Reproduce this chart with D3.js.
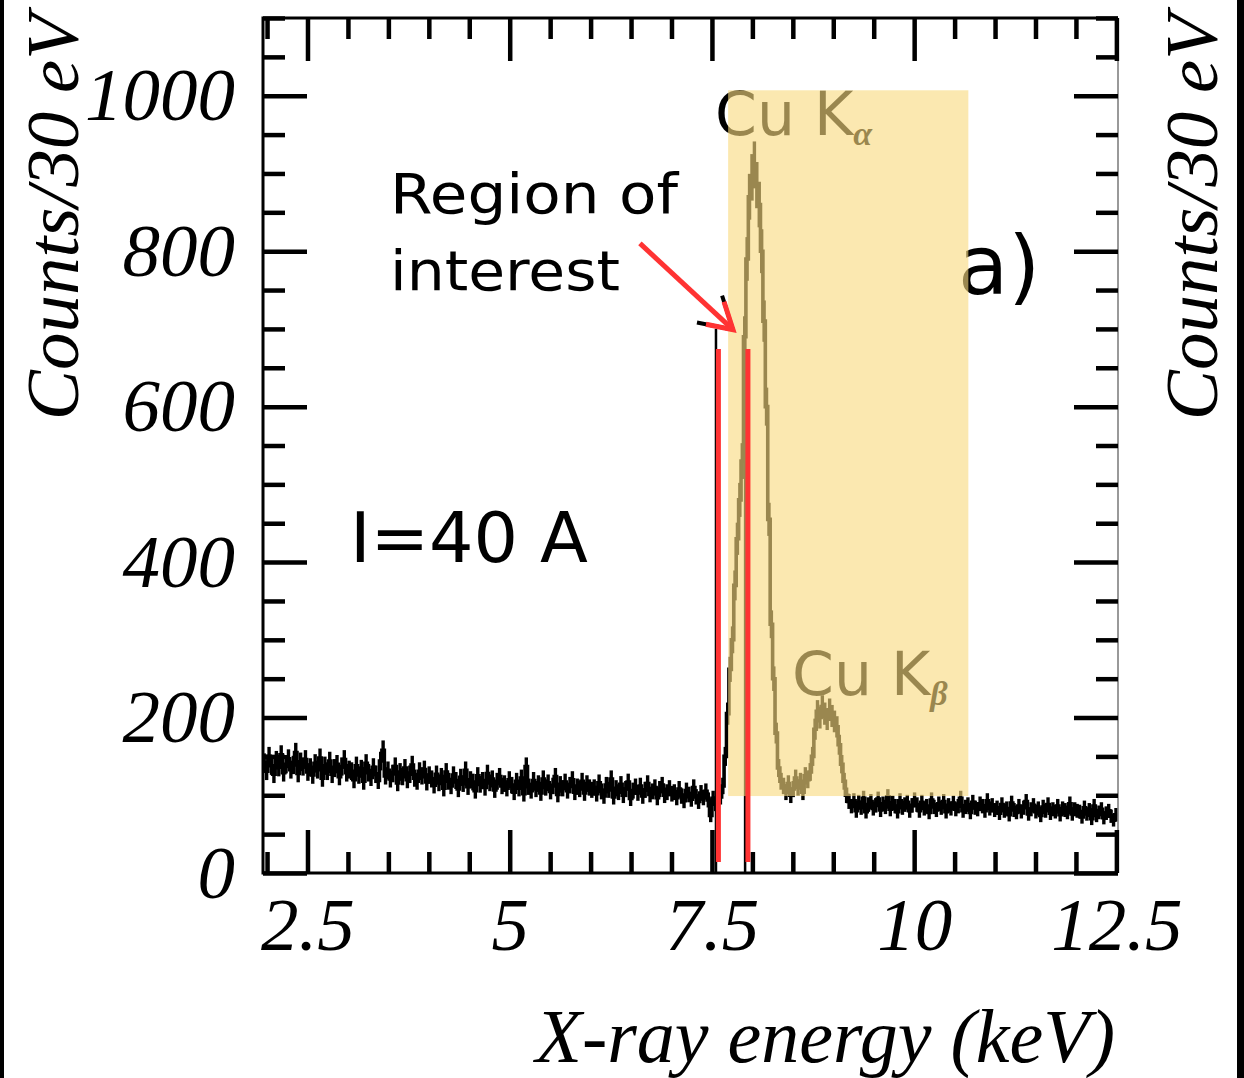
<!DOCTYPE html>
<html>
<head>
<meta charset="utf-8">
<script src="https://cdn.jsdelivr.net/npm/d3@7"></script>
<style>
  body { margin: 0; background: #fff; }
  .serif { font-family: "Liberation Serif", "Times New Roman", serif; font-style: italic; }
  .sans { font-family: "DejaVu Sans", sans-serif; }
</style>
</head>
<body>
<div class="chart"></div>
<script>
// X-ray spectrum with Cu K lines, I = 40 A

// Histogram, 30 eV bins starting at 1.95 keV
var binStart = 1.95;  // keV, low edge of first bin
var binWidth = 0.03;  // keV
var counts = [
  142,131,150,138,127,145,136,152,129,140,147,133,139,155,128,143,137,146,130,
  136,126,141,133,148,122,138,131,144,127,135,140,124,137,146,129,133,
  131,120,138,126,134,118,141,129,123,136,127,119,144,158,125,132,121,128,137,116,
  130,124,135,120,127,139,122,118,131,125,133,117,126,
  121,113,127,116,124,109,130,118,112,126,119,108,123,115,132,111,120,117,106,125,
  114,119,110,128,116,121,107,118,124,112,115,109,120,
  113,104,118,109,122,102,137,111,106,119,108,115,103,121,110,116,105,112,124,101,
  114,109,117,106,113,120,104,111,108,118,103,115,110,107,
  110,102,116,105,99,113,107,121,98,109,104,114,100,108,117,96,106,111,103,112,
  99,107,115,101,105,110,97,108,113,100,104,109,102,
  104,97,108,99,93,106,101,95,110,98,92,103,97,105,94,74,96,89,102,98,
  // Cu K-alpha and K-beta
  112,150,205,262,300,370,430,480,530,690,790,870,895,911,885,860,800,710,600,455,
  320,250,180,135,118,112,104,115,100,108,122,110,118,104,125,120,130,150,185,208,
  200,214,205,198,210,202,195,188,165,140,118,100,92,
  86,93,80,91,84,96,79,88,92,83,87,95,81,89,85,98,82,90,86,79,93,84,88,91,80,87,94,
  88,80,91,83,86,78,94,85,81,89,84,92,79,87,83,90,82,86,96,80,
  85,88,78,91,84,82,89,86,80,93,83,87,81,
  84,77,88,80,83,75,90,81,78,86,79,84,92,76,82,87,79,83,74,85,
  80,88,77,82,79,86,75,83,81,78,89,76,82,80,
  79,72,84,76,81,70,86,74,78,82,71,77,80,73,68,75
];

var xMajor = [2.5, 5, 7.5, 10, 12.5];
var xMinor = [2, 3, 3.5, 4, 4.5, 5.5, 6, 6.5, 7, 8, 8.5, 9, 9.5, 10.5, 11, 11.5, 12];
var yMajor = [0, 200, 400, 600, 800, 1000];
var yMinor = [50, 100, 150, 250, 300, 350, 450, 500, 550, 650, 700, 750, 850, 900, 950, 1050, 1100];

// Annotations, in keV / counts
var highlightE = [7.70, 10.67];   // shaded band
var highlightC = [99, 1007];
var roiOld = [7.55, 7.91];        // black ROI markers
var roiRed = [7.58, 7.945];       // red ROI markers
var arrowFrom = [6.61, 810];
var arrowTo = [7.76, 699];

var svg = d3.select(".chart").append("svg")
          .attr("width", 1244)
          .attr("height", 1078);

svg.append("rect").attr("width", 1244).attr("height", 1078).style("fill", "#fff");

var x = d3.scaleLinear().domain([1.95, 12.52]).range([263, 1118]);
var y = d3.scaleLinear().domain([0, 1100]).range([873, 18]);

// Spectrum: step line plus sqrt(N) error bars
var pts = [];
counts.forEach(function(c, i) {
  pts.push([x(binStart + i * binWidth), y(c)]);
  pts.push([x(binStart + (i + 1) * binWidth), y(c)]);
});
svg.append("path")
   .attr("d", d3.line()(pts))
   .style("fill", "none")
   .style("stroke", "#000")
   .style("stroke-width", 3.6);

svg.selectAll("line.err")
    .data(counts)
    .enter().append("line")
          .attr("class", "err")
          .attr("x1", function(d, i) {return x(binStart + (i + 0.5) * binWidth)})
          .attr("x2", function(d, i) {return x(binStart + (i + 0.5) * binWidth)})
          .attr("y1", function(d) {return y(d - Math.sqrt(d))})
          .attr("y2", function(d) {return y(d + Math.sqrt(d))})
          .style("stroke", "#000")
          .style("stroke-width", 3.4);

// old black ROI lines and arrow bits
svg.selectAll("line.roiold")
    .data(roiOld)
    .enter().append("line")
          .attr("x1", function(d) {return x(d)})
          .attr("x2", function(d) {return x(d)})
          .attr("y1", y(0))
          .attr("y2", y(700))
          .style("stroke", "#000")
          .style("stroke-width", 2.5);

function barbs(len1, len2) {
  var tx = x(arrowTo[0]), ty = y(arrowTo[1]);
  return "M" + (tx - len1 * 0.32) + "," + (ty - len1) + "L" + tx + "," + ty +
         "L" + (tx - len2) + "," + (ty - len2 * 0.2);
}
svg.append("path").attr("d", barbs(34, 36))
   .style("fill", "none").style("stroke", "#000").style("stroke-width", 4);

// frame
svg.append("path")
   .attr("d", "M" + x.range()[1] + "," + y.range()[1] + "H" + x.range()[0] + "V" + y.range()[0] + "H" + x.range()[1])
   .style("fill", "none").style("stroke", "#000").style("stroke-width", 3);
svg.append("line")
   .attr("x1", x.range()[1]).attr("x2", x.range()[1])
   .attr("y1", y.range()[1]).attr("y2", y.range()[0])
   .style("stroke", "#777").style("stroke-width", 1.5);

// inward ticks on all four sides
function ticks(axis, values, size, tx, ty) {
  var g = svg.append("g")
      .attr("transform", "translate(" + tx + "," + ty + ")")
      .call(axis.tickValues(values).tickSize(size).tickSizeOuter(0).tickFormat(""));
  g.select(".domain").remove();
  g.selectAll("line").attr("stroke-width", 4.5);
}
ticks(d3.axisBottom(x), xMajor, -43, 0, y(0));
ticks(d3.axisBottom(x), xMinor, -21, 0, y(0));
ticks(d3.axisTop(x), xMajor, -43, 0, y(1100));
ticks(d3.axisTop(x), xMinor, -21, 0, y(1100));
ticks(d3.axisLeft(y), yMajor, -44, x(1.95), 0);
ticks(d3.axisLeft(y), yMinor, -22, x(1.95), 0);
ticks(d3.axisRight(y), yMajor, -44, x(12.52), 0);
ticks(d3.axisRight(y), yMinor, -22, x(12.52), 0);

// tick labels
var xl = svg.append("g")
    .attr("transform", "translate(0," + y(0) + ")")
    .call(d3.axisBottom(x).tickValues(xMajor).tickSize(0).tickPadding(24).tickFormat(d3.format("")));
xl.select(".domain").remove();
xl.attr("font-size", 75).attr("class", "serif").attr("font-family", null);

var yl = svg.append("g")
    .attr("transform", "translate(" + x(1.95) + ",0)")
    .call(d3.axisLeft(y).tickValues(yMajor).tickSize(0).tickPadding(28).tickFormat(d3.format("d")));
yl.select(".domain").remove();
yl.attr("font-size", 75).attr("class", "serif").attr("font-family", null);

// axis titles
svg.append("text").attr("class", "serif")
   .attr("x", 1115).attr("y", 1062)
   .attr("text-anchor", "end").style("font-size", "76px")
   .text("X-ray energy (keV)");
[78, 1217].forEach(function(px) {
  svg.append("text").attr("class", "serif")
     .attr("transform", "translate(" + px + ",217) rotate(-90)")
     .attr("text-anchor", "middle").style("font-size", "75px")
     .text("Counts/30 eV");
});

// line labels (under the shading)
var ka = svg.append("text").attr("class", "sans")
   .attr("x", 715).attr("y", 135).style("font-size", "60px").text("Cu K");
ka.append("tspan").attr("class", "serif").attr("dy", 10)
   .style("font-size", "34px").style("font-weight", "bold").text("α");
var kb = svg.append("text").attr("class", "sans")
   .attr("x", 792).attr("y", 695).style("font-size", "60px").text("Cu K");
kb.append("tspan").attr("class", "serif").attr("dy", 10)
   .style("font-size", "34px").style("font-weight", "bold").text("β");
svg.append("text").attr("class", "sans")
   .attr("x", 958).attr("y", 294).style("font-size", "82px").text("a)");

// shaded band
svg.append("rect")
   .attr("x", x(highlightE[0]))
   .attr("width", x(highlightE[1]) - x(highlightE[0]))
   .attr("y", y(highlightC[1]))
   .attr("height", y(highlightC[0]) - y(highlightC[1]))
   .style("fill", "rgb(248,218,128)")
   .style("opacity", 0.62);

// red ROI lines and arrow
svg.selectAll("line.roired")
    .data(roiRed)
    .enter().append("line")
          .attr("x1", function(d) {return x(d)})
          .attr("x2", function(d) {return x(d)})
          .attr("y1", y(14))
          .attr("y2", y(674))
          .style("stroke", "#ff3333")
          .style("stroke-width", 5);
svg.append("line")
   .attr("x1", x(arrowFrom[0])).attr("y1", y(arrowFrom[1]))
   .attr("x2", x(arrowTo[0])).attr("y2", y(arrowTo[1]))
   .style("stroke", "#ff3333").style("stroke-width", 5);
svg.append("path").attr("d", barbs(28, 27))
   .style("fill", "none").style("stroke", "#ff3333").style("stroke-width", 5)
   .style("stroke-linejoin", "miter");

// free text
svg.append("text").attr("class", "sans")
   .attr("x", 390).attr("y", 213).style("font-size", "55px")
   .attr("textLength", 288).attr("lengthAdjust", "spacingAndGlyphs").text("Region of");
svg.append("text").attr("class", "sans")
   .attr("x", 390).attr("y", 290).style("font-size", "55px")
   .attr("textLength", 230).attr("lengthAdjust", "spacingAndGlyphs").text("interest");
svg.append("text").attr("class", "sans")
   .attr("x", 350).attr("y", 562).style("font-size", "70px")
   .attr("textLength", 238).attr("lengthAdjust", "spacing").text("I=40 A");

// page edges
svg.append("rect").attr("x", 0).attr("width", 4).attr("height", 1078).style("fill", "#000");
svg.append("rect").attr("x", 1237).attr("width", 7).attr("height", 1078).style("fill", "#000");
</script>
</body>
</html>
